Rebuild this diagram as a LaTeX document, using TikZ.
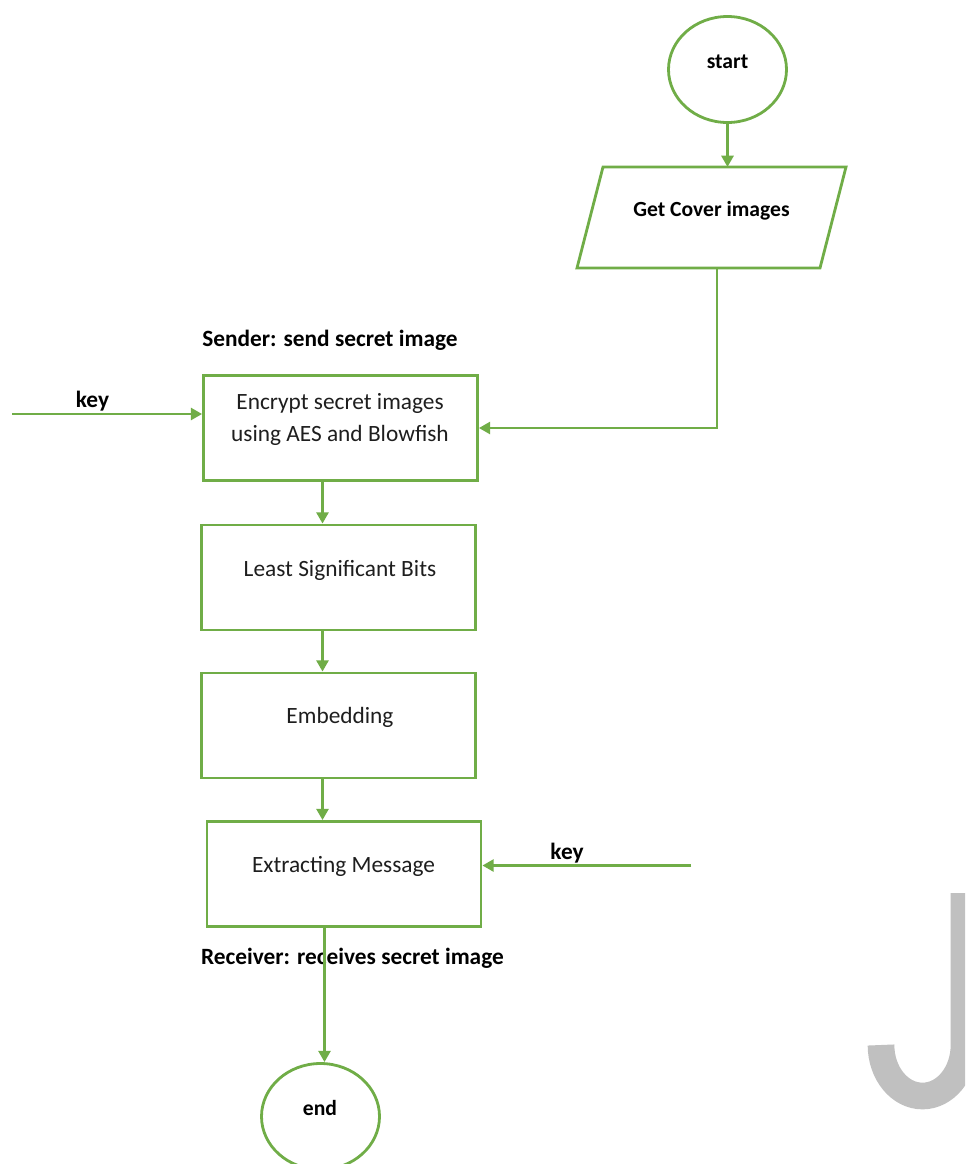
\documentclass[tikz,border=0pt]{standalone}
\usepackage{fontspec}
\setmainfont{Carlito}
\usetikzlibrary{arrows.meta,shapes.geometric}
\definecolor{fg}{RGB}{112,173,71}
\definecolor{wm}{RGB}{192,192,192}
\definecolor{tx}{RGB}{30,30,30}
\begin{document}
\begin{tikzpicture}[x=0.75pt,y=-0.75pt,
  flow/.style={draw=fg, line width=2.1pt},
  arr/.style={draw=fg, line width=2.1pt, -{Triangle[length=8.5pt,width=9pt]}},
  box/.style={draw=fg, line width=2.1pt, rectangle, minimum width=205.5pt, minimum height=78.75pt, inner sep=0pt},
  term/.style={draw=fg, line width=2.1pt, ellipse, minimum width=88.5pt, minimum height=79.5pt, inner sep=0pt},
  txt/.style={text=tx, font=\fontsize{17.5}{21}\selectfont, inner sep=0pt},
  btxt/.style={font=\bfseries\fontsize{17.5}{21}\selectfont, inner sep=0pt},
  stxt/.style={font=\bfseries\fontsize{16.2}{20}\selectfont, inner sep=0pt}]
\useasboundingbox (0,0) rectangle (965,1164);
\clip (0,0) rectangle (965,1164);
\fill[white] (0,0) rectangle (965,1164);

% watermark J
\draw[wm, line width=20pt] (964,893) -- (964,1045) arc[start angle=0, end angle=180, x radius=41.5, y radius=51];

% start
\node[term] (start) at (727.5,69.5) {};
\node[stxt] (starttxt) at (727.5,62) {start};

% parallelogram
\coordinate (pbl) at (577,268);
\coordinate (ptl) at (603,167);
\coordinate (ptr) at (846,167);
\coordinate (pbr) at (820,268);
\draw[flow, line join=miter] (pbl) -- (ptl) -- (ptr) -- (pbr) -- cycle;
\node[stxt] (cover) at (711.5,210.5) {Get Cover images};
\coordinate (ptop) at (727.5,167);
\coordinate (pbot) at (717,268);

% boxes
\node[box] (b1) at (340.5,428) {};
\node[box] (b2) at (338.5,577.5) {};
\node[box] (b3) at (338.5,725.5) {};
\node[box] (b4) at (344,874) {};
\node[txt] (b1a) at (340,403.5) {Encrypt secret images};
\node[txt] (b1b) at (340,435) {using AES and Blowfish};
\node[txt] (b2t) at (340,570) {Least Significant Bits};
\node[txt] (b3t) at (340,717) {Embedding};
\node[txt] (b4t) at (343.5,866.5) {Extracting Message};

% end
\node[term] (end) at (320.5,1116.5) {};
\node[stxt] (endtxt) at (320,1108) {end};

% labels
\node[btxt] (sender) at (330,340) {Sender: send secret image};
\node[btxt] (receiver) at (352.5,958) {Receiver: receives secret image};
\node[btxt] (keyl) at (92.5,401) {key};
\node[btxt] (keyr) at (567,853) {key};

% connectors
\coordinate (vx) at (322.5,0);
\coordinate (vy) at (324.5,0);
\coordinate (kl) at (12,414);
\coordinate (kr) at (691,865.5);
\draw[arr] (start.south) -- (ptop);
\draw[arr] (pbot) |- (b1.east);
\draw[arr] (kl) -- (kl -| b1.west);
\draw[arr] (b1.south -| vx) -- (b2.north -| vx);
\draw[arr] (b2.south -| vx) -- (b3.north -| vx);
\draw[arr] (b3.south -| vx) -- (b4.north -| vx);
\draw[arr] (kr) -- (kr -| b4.east);
\draw[arr] (b4.south -| vy) -- (end.north -| vy);
\end{tikzpicture}
\end{document}
